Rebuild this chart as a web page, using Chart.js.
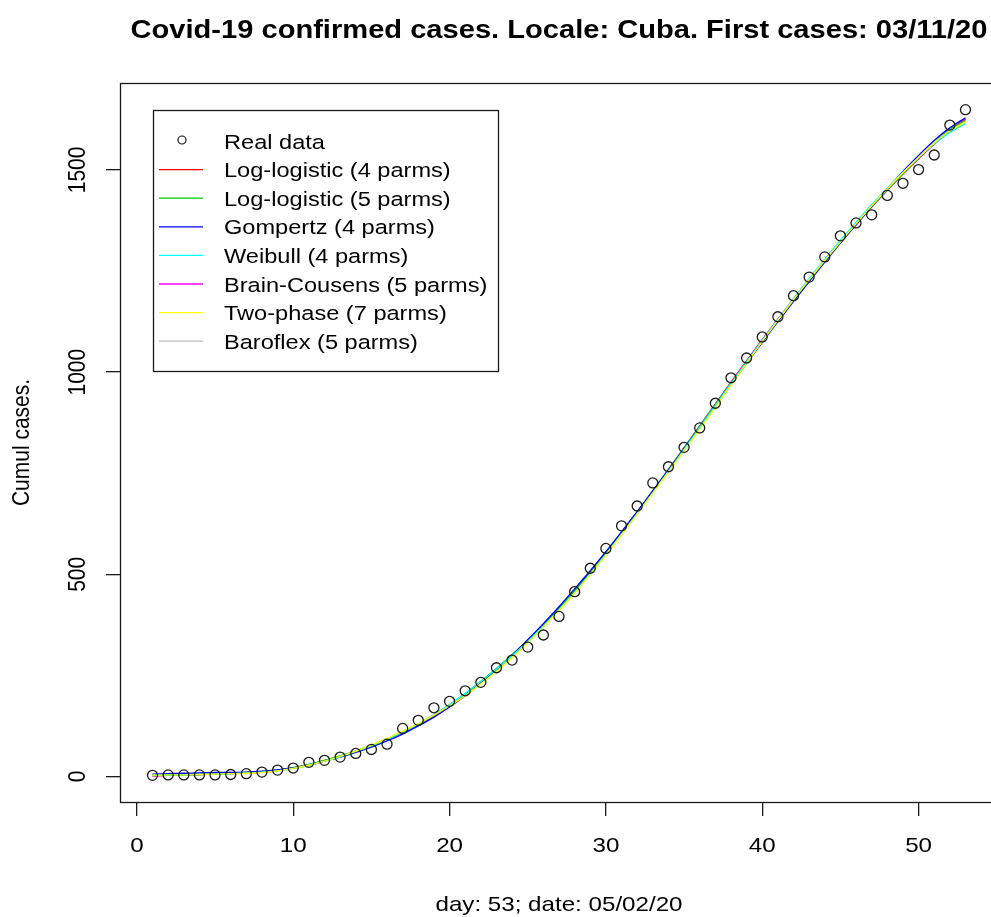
<!DOCTYPE html>
<html>
<head>
<meta charset="utf-8">
<title>Covid-19 confirmed cases - Cuba</title>
<script src="https://cdn.jsdelivr.net/npm/chart.js@4.4.1/dist/chart.umd.min.js"></script>
<style>
  html, body { margin: 0; padding: 0; background: #fff; overflow: hidden; }
  #chart { display: block; }
</style>
</head>
<body>
<canvas id="chart" width="1010" height="917"></canvas>
<script>
/* -------------------- DATA -------------------- */
const days = [1, 2, 3, 4, 5, 6, 7, 8, 9, 10, 11, 12, 13, 14, 15, 16, 17, 18, 19, 20,
  21, 22, 23, 24, 25, 26, 27, 28, 29, 30, 31, 32, 33, 34, 35, 36, 37, 38, 39, 40,
  41, 42, 43, 44, 45, 46, 47, 48, 49, 50, 51, 52, 53];

const realData = [3, 4, 4, 4, 4, 5, 7, 11, 16, 21, 35, 40, 48, 57, 67, 80, 119, 139, 170, 186,
  212, 233, 269, 288, 320, 350, 396, 457, 515, 564, 620, 669, 726, 766, 814, 862, 923, 986, 1035, 1087,
  1137, 1189, 1235, 1285, 1337, 1369, 1389, 1437, 1467, 1501, 1537, 1611, 1649];

const logLogistic4 = [2, 3, 4, 5, 6, 7, 9, 11, 15, 21, 29, 39, 50, 62, 76, 91, 108, 128, 151, 176,
  204, 234, 266, 300, 336, 374, 414, 458, 504, 552, 602, 653, 705, 758, 812, 866, 920, 974, 1027, 1079,
  1130, 1180, 1229, 1276, 1322, 1367, 1410, 1451, 1491, 1529, 1565, 1598, 1627];

const logLogistic5 = [3, 3, 4, 5, 6, 8, 10, 12, 16, 22, 30, 40, 51, 63, 77, 92, 109, 129, 152, 177,
  205, 235, 267, 301, 337, 375, 416, 460, 506, 554, 603, 654, 706, 759, 812, 866, 920, 973, 1026, 1078,
  1129, 1179, 1228, 1275, 1321, 1366, 1409, 1451, 1491, 1530, 1567, 1600, 1622];

const gompertz = [6, 7, 8, 9, 10, 10, 11, 13, 16, 21, 28, 38, 48, 60, 73, 88, 105, 125, 147, 172,
  200, 231, 264, 300, 338, 378, 420, 464, 509, 556, 605, 655, 706, 758, 810, 863, 916, 969, 1022, 1074,
  1125, 1175, 1224, 1272, 1319, 1364, 1409, 1453, 1496, 1536, 1573, 1604, 1629];

const weibull = [3, 4, 4, 5, 6, 7, 9, 11, 14, 20, 28, 38, 49, 62, 76, 92, 110, 130, 153, 178,
  205, 235, 266, 299, 334, 372, 412, 455, 501, 549, 599, 650, 702, 755, 809, 863, 917, 971, 1025, 1078,
  1130, 1181, 1231, 1279, 1326, 1371, 1414, 1455, 1494, 1531, 1565, 1593, 1614];

const brainCousens = [2, 3, 4, 5, 6, 7, 9, 11, 15, 21, 29, 39, 50, 62, 76, 91, 108, 128, 151, 176,
  203, 233, 265, 299, 335, 373, 414, 458, 504, 553, 603, 654, 706, 759, 813, 867, 921, 975, 1028, 1080,
  1131, 1181, 1229, 1276, 1322, 1366, 1409, 1450, 1490, 1528, 1564, 1597, 1625];

const twoPhase = [3, 4, 4, 5, 6, 7, 8, 10, 14, 20, 28, 38, 50, 63, 78, 94, 112, 131, 152, 175,
  200, 229, 260, 294, 331, 370, 411, 454, 500, 548, 598, 649, 701, 753, 806, 859, 913, 968, 1022, 1076,
  1128, 1179, 1228, 1276, 1322, 1367, 1411, 1453, 1493, 1531, 1567, 1597, 1619];

const baroflex = [2, 3, 4, 5, 6, 7, 9, 12, 16, 22, 30, 40, 51, 63, 77, 92, 109, 129, 152, 177,
  205, 235, 266, 300, 336, 374, 414, 457, 503, 551, 601, 652, 704, 757, 811, 865, 919, 973, 1026, 1078,
  1129, 1179, 1228, 1275, 1321, 1366, 1409, 1450, 1490, 1528, 1563, 1595, 1620];

const xTicks = [0, 10, 20, 30, 40, 50];
const yTicks = [0, 500, 1000, 1500];

const titleText = "Covid-19 confirmed cases. Locale: Cuba. First cases: 03/11/20";
const xTitle = "day: 53; date: 05/02/20";
const yTitle = "Cumul cases.";

/* -------------------- HELPERS -------------------- */
const FONT = '"Liberation Sans", Arial, sans-serif';
const STRETCH = 1.15;   // the source picture is a bit wider than tall

function pairs(values) {
  return days.map((d, i) => ({ x: d, y: values[i] }));
}

function fitLine(label, values, color, order) {
  return {
    label: label,
    data: pairs(values),
    borderColor: color,
    backgroundColor: color,
    borderWidth: 1.4,
    pointRadius: 0,
    tension: 0.3,
    fill: false,
    order: order
  };
}

function drawText(ctx, text, x, y, font, rotated) {
  ctx.save();
  ctx.translate(x, y);
  ctx.scale(STRETCH, 1);
  if (rotated) ctx.rotate(-Math.PI / 2);
  ctx.font = font;
  ctx.fillStyle = "#000";
  ctx.textAlign = "center";
  ctx.textBaseline = "middle";
  ctx.fillText(text, 0, 0);
  ctx.restore();
}

/* -------------------- R STYLE DECORATIONS -------------------- */
const rStyle = {
  id: "rStyle",
  afterDraw(chart) {
    const ctx = chart.ctx;
    const ca = chart.chartArea;
    const xs = chart.scales.x;
    const ys = chart.scales.y;
    const midX = (ca.left + ca.right) / 2;
    const midY = (ca.top + ca.bottom) / 2;

    // plot box
    ctx.save();
    ctx.strokeStyle = "#1a1a1a";
    ctx.lineWidth = 1.3;
    ctx.strokeRect(Math.round(ca.left) + 0.5, Math.round(ca.top) + 0.5,
      Math.round(ca.right - ca.left), Math.round(ca.bottom - ca.top));
    ctx.restore();

    // tick labels
    xs.ticks.forEach(t => drawText(ctx, String(t.value), xs.getPixelForValue(t.value), ca.bottom + 44, "21px " + FONT, false));
    ys.ticks.forEach(t => drawText(ctx, String(t.value), ca.left - 42, ys.getPixelForValue(t.value), "21px " + FONT, true));

    // titles
    drawText(ctx, titleText, midX, 31, "bold 25.3px " + FONT, false);
    drawText(ctx, xTitle, midX, 905, "21px " + FONT, false);
    drawText(ctx, yTitle, 22, midY, "21px " + FONT, true);

    // legend
    const lx = ca.left + 33, ly = ca.top + 27, lw = 345, lh = 261;
    ctx.save();
    ctx.fillStyle = "#fff";
    ctx.fillRect(lx, ly, lw, lh);
    ctx.strokeStyle = "#1a1a1a";
    ctx.lineWidth = 1.3;
    ctx.strokeRect(Math.round(lx) + 0.5, Math.round(ly) + 0.5, lw, lh);
    chart.data.datasets.forEach((ds, i) => {
      const ry = ly + 31 + i * 28.6;
      if (ds.showLine === false) {
        ctx.beginPath();
        ctx.arc(lx + 29, ry - 1, 4, 0, Math.PI * 2);
        ctx.strokeStyle = "#1a1a1a";
        ctx.lineWidth = 1.2;
        ctx.stroke();
      } else {
        ctx.beginPath();
        ctx.moveTo(lx + 6, ry);
        ctx.lineTo(lx + 50, ry);
        ctx.strokeStyle = ds.borderColor;
        ctx.lineWidth = 1.3;
        ctx.stroke();
      }
      ctx.save();
      ctx.translate(lx + 71, ry + 2);
      ctx.scale(STRETCH, 1);
      ctx.font = "20.5px " + FONT;
      ctx.fillStyle = "#000";
      ctx.textAlign = "left";
      ctx.textBaseline = "middle";
      ctx.fillText(ds.label, 0, 0);
      ctx.restore();
    });
    ctx.restore();
  }
};

/* -------------------- CHART -------------------- */
const ctx = document.getElementById("chart");
new Chart(ctx, {
  type: "line",
  data: {
    datasets: [
      {
        label: "Real data",
        data: pairs(realData),
        showLine: false,
        pointRadius: 5,
        pointBorderWidth: 1.3,
        pointBorderColor: "#1a1a1a",
        pointBackgroundColor: "rgba(0,0,0,0)",
        order: 0
      },
      fitLine("Log-logistic (4 parms)", logLogistic4, "#FF0000", 6),
      fitLine("Log-logistic (5 parms)", logLogistic5, "#00CD00", 4),
      fitLine("Gompertz (4 parms)", gompertz, "#0000FF", 3),
      fitLine("Weibull (4 parms)", weibull, "#00FFFF", 2),
      fitLine("Brain-Cousens (5 parms)", brainCousens, "#FF00FF", 5),
      fitLine("Two-phase (7 parms)", twoPhase, "#FFFF00", 1),
      fitLine("Baroflex (5 parms)", baroflex, "#BEBEBE", 7)
    ]
  },
  options: {
    responsive: false,
    animation: false,
    events: [],
    devicePixelRatio: 1,
    layout: { padding: { left: 0, top: 83, right: 12, bottom: 0 } },
    plugins: {
      legend: { display: false },
      title: { display: false },
      tooltip: { enabled: false }
    },
    scales: {
      x: {
        type: "linear",
        min: -1.08,
        max: 55.08,
        afterBuildTicks: scale => { scale.ticks = xTicks.map(v => ({ value: v })); },
        afterFit: scale => { scale.height = 115; },
        ticks: { display: false },
        grid: { display: true, drawOnChartArea: false, drawTicks: true, tickLength: 14, color: "#1a1a1a", lineWidth: 1.3 },
        border: { display: false }
      },
      y: {
        type: "linear",
        min: -63,
        max: 1715,
        afterBuildTicks: scale => { scale.ticks = yTicks.map(v => ({ value: v })); },
        afterFit: scale => { scale.width = 120; },
        ticks: { display: false },
        grid: { display: true, drawOnChartArea: false, drawTicks: true, tickLength: 14, color: "#1a1a1a", lineWidth: 1.3 },
        border: { display: false }
      }
    }
  },
  plugins: [rStyle]
});
</script>
</body>
</html>
